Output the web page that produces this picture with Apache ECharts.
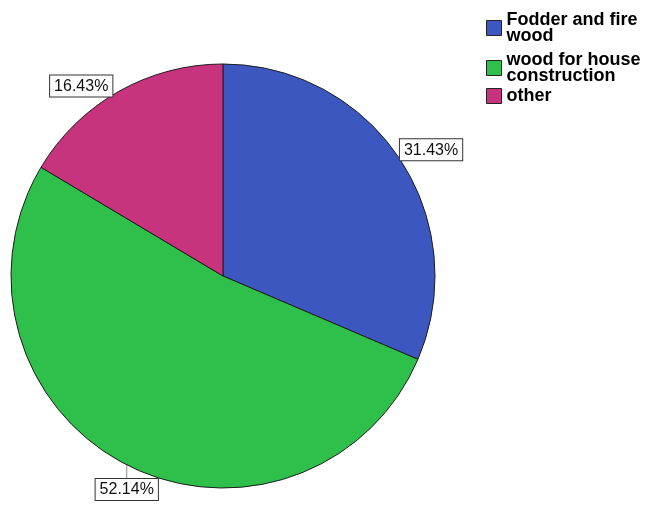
<!DOCTYPE html>
<html>
<head>
<meta charset="utf-8">
<script src="https://cdn.jsdelivr.net/npm/echarts@6/dist/echarts.min.js"></script>
<style>
  html, body { margin: 0; padding: 0; background: #ffffff; }
  #chart { width: 649px; height: 506px; }
</style>
</head>
<body>
<div id="chart"></div>
<script>
// Uses of wood – share of respondents (%)
const categories = ['Fodder and fire wood', 'wood for house construction', 'other'];
const legendLabels = ['Fodder and fire\nwood', 'wood for house\nconstruction', 'other'];
const shares = [31.43, 52.14, 16.43];
const sliceColors = ['#3c57c0', '#2ec04b', '#c8337e'];

// vertical offsets of the three legend entries
const legendTops = [11, 51, 87];

const FONT = 'Liberation Sans, Arial, sans-serif';

const chart = echarts.init(document.getElementById('chart'), null, { renderer: 'canvas' });

const pieData = categories.map((name, i) => ({
  name: name,
  value: shares[i],
  itemStyle: { color: sliceColors[i] }
}));

const legends = categories.map((name, i) => ({
  data: [name],
  orient: 'vertical',
  left: 486,
  top: legendTops[i],
  padding: 0,
  itemGap: 0,
  itemWidth: 15,
  itemHeight: 15,
  icon: 'rect',
  selectedMode: false,
  itemStyle: { borderColor: '#222', borderWidth: 1 },
  formatter: () => legendLabels[i],
  textStyle: {
    fontFamily: FONT,
    fontWeight: 'bold',
    fontSize: 18,
    lineHeight: 16,
    color: '#000'
  }
}));

chart.setOption({
  backgroundColor: '#ffffff',
  animation: false,
  legend: legends,
  series: [{
    type: 'pie',
    center: [223, 276],
    radius: 212,
    startAngle: 90,
    clockwise: true,
    avoidLabelOverlap: false,
    data: pieData,
    itemStyle: { borderColor: '#1e1e1e', borderWidth: 1 },
    label: {
      show: true,
      position: 'outside',
      formatter: p => p.value.toFixed(2) + '%',
      fontFamily: FONT,
      fontSize: 16,
      color: '#111',
      backgroundColor: '#ffffff',
      borderColor: '#333',
      borderWidth: 1,
      padding: [3, 4, 2, 4]
    },
    labelLine: {
      show: true,
      length: 0,
      length2: 0,
      lineStyle: { color: '#8a8a8a', width: 1 }
    },
    labelLayout: function (params) {
      const pts = params.labelLinePoints;
      if (!pts) return {};
      const p = pts[0];
      if (params.dataIndex === 0) {
        return { x: p[0], y: p[1] + 1, align: 'left', verticalAlign: 'bottom',
                 labelLinePoints: [p, p, p] };
      }
      if (params.dataIndex === 1) {
        const end = [p[0], p[1] + 14];
        return { x: p[0], y: end[1], align: 'center', verticalAlign: 'top',
                 labelLinePoints: [p, end, end] };
      }
      return { x: p[0] - 6, y: p[1] + 5, align: 'right', verticalAlign: 'bottom',
               labelLinePoints: [p, p, p] };
    }
  }]
});
</script>
</body>
</html>
